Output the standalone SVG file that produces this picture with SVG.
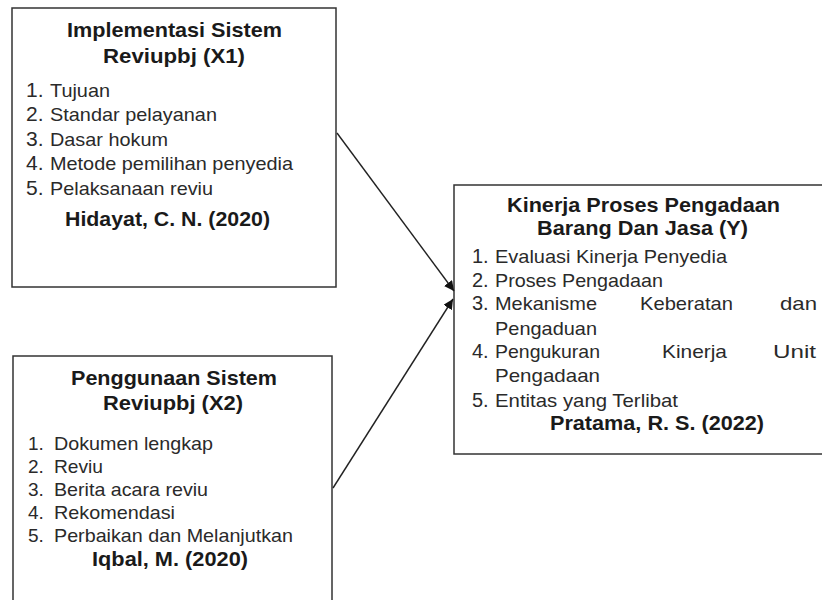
<svg xmlns="http://www.w3.org/2000/svg" width="822" height="600" viewBox="0 0 822 600">
<defs>
<style>
.box{fill:#fff;stroke:#333;stroke-width:1.5}
.t{font-family:"Liberation Sans",Arial,sans-serif;font-weight:bold;font-size:21px;fill:#1a1a1a}
.l{font-family:"Liberation Sans",Arial,sans-serif;font-size:19px;fill:#2a2a2a}
.n{font-family:"Liberation Sans",Arial,sans-serif;font-size:21px;fill:#2a2a2a}
.n3{font-family:"Liberation Sans",Arial,sans-serif;font-size:20px;fill:#2a2a2a}
.n2{font-family:"Liberation Sans",Arial,sans-serif;font-size:19px;fill:#2a2a2a}
.c{fill:none;stroke:#222;stroke-width:1.4}
</style>
<marker id="ah" viewBox="0 0 10 10" refX="10" refY="5" markerWidth="10" markerHeight="10" markerUnits="userSpaceOnUse" orient="auto">
<path d="M0,0 L10,5 L0,10 z" fill="#111"/>
</marker>
</defs>
<rect width="822" height="600" fill="#fff"/>
<g id="x1">
<rect class="box" x="12" y="8" width="324" height="279"/>
<text class="t" x="67" y="37" textLength="215" lengthAdjust="spacingAndGlyphs">Implementasi Sistem</text>
<text class="t" x="103" y="63" textLength="142" lengthAdjust="spacingAndGlyphs">Reviupbj (X1)</text>
<text class="n" x="26" y="97">1.</text><text class="l" x="50" y="97" textLength="60" lengthAdjust="spacingAndGlyphs">Tujuan</text>
<text class="n" x="26" y="121">2.</text><text class="l" x="50" y="121" textLength="167" lengthAdjust="spacingAndGlyphs">Standar pelayanan</text>
<text class="n" x="26" y="146">3.</text><text class="l" x="50" y="146" textLength="118" lengthAdjust="spacingAndGlyphs">Dasar hokum</text>
<text class="n" x="26" y="170">4.</text><text class="l" x="50" y="170" textLength="243" lengthAdjust="spacingAndGlyphs">Metode pemilihan penyedia</text>
<text class="n" x="26" y="195">5.</text><text class="l" x="50" y="195" textLength="163" lengthAdjust="spacingAndGlyphs">Pelaksanaan reviu</text>
<text class="t" x="65" y="226" textLength="205" lengthAdjust="spacingAndGlyphs">Hidayat, C. N. (2020)</text>
</g>
<g id="x2">
<rect class="box" x="13" y="356" width="319" height="260"/>
<text class="t" x="71" y="385" textLength="206" lengthAdjust="spacingAndGlyphs">Penggunaan Sistem</text>
<text class="t" x="103" y="410" textLength="140" lengthAdjust="spacingAndGlyphs">Reviupbj (X2)</text>
<text class="n2" x="28" y="450">1.</text><text class="l" x="54" y="450" textLength="159" lengthAdjust="spacingAndGlyphs">Dokumen lengkap</text>
<text class="n2" x="28" y="473">2.</text><text class="l" x="54" y="473" textLength="49" lengthAdjust="spacingAndGlyphs">Reviu</text>
<text class="n2" x="28" y="496">3.</text><text class="l" x="54" y="496" textLength="154" lengthAdjust="spacingAndGlyphs">Berita acara reviu</text>
<text class="n2" x="28" y="519">4.</text><text class="l" x="54" y="519" textLength="121" lengthAdjust="spacingAndGlyphs">Rekomendasi</text>
<text class="n2" x="28" y="542">5.</text><text class="l" x="54" y="542" textLength="239" lengthAdjust="spacingAndGlyphs">Perbaikan dan Melanjutkan</text>
<text class="t" x="92" y="566" textLength="156" lengthAdjust="spacingAndGlyphs">Iqbal, M. (2020)</text>
</g>
<g id="y">
<rect class="box" x="454" y="185" width="380" height="269"/>
<text class="t" x="507" y="212" textLength="273" lengthAdjust="spacingAndGlyphs">Kinerja Proses Pengadaan</text>
<text class="t" x="537" y="235" textLength="211" lengthAdjust="spacingAndGlyphs">Barang Dan Jasa (Y)</text>
<text class="n3" x="472" y="263">1.</text><text class="l" x="495" y="263" textLength="232" lengthAdjust="spacingAndGlyphs">Evaluasi Kinerja Penyedia</text>
<text class="n3" x="472" y="287">2.</text><text class="l" x="495" y="287" textLength="168" lengthAdjust="spacingAndGlyphs">Proses Pengadaan</text>
<text class="n3" x="472" y="310">3.</text><text class="l" x="495" y="310" textLength="102" lengthAdjust="spacingAndGlyphs">Mekanisme</text>
<text class="l" x="640" y="310" textLength="93" lengthAdjust="spacingAndGlyphs">Keberatan</text>
<text class="l" x="780" y="310" textLength="37" lengthAdjust="spacingAndGlyphs">dan</text>
<text class="l" x="495" y="335" textLength="102" lengthAdjust="spacingAndGlyphs">Pengaduan</text>
<text class="n3" x="472" y="358">4.</text><text class="l" x="495" y="358" textLength="105" lengthAdjust="spacingAndGlyphs">Pengukuran</text>
<text class="l" x="662" y="358" textLength="65" lengthAdjust="spacingAndGlyphs">Kinerja</text>
<text class="l" x="773" y="358" textLength="43" lengthAdjust="spacingAndGlyphs">Unit</text>
<text class="l" x="495" y="382" textLength="105" lengthAdjust="spacingAndGlyphs">Pengadaan</text>
<text class="n3" x="472" y="407">5.</text><text class="l" x="495" y="407" textLength="183" lengthAdjust="spacingAndGlyphs">Entitas yang Terlibat</text>
<text class="t" x="550" y="430" textLength="214" lengthAdjust="spacingAndGlyphs">Pratama, R. S. (2022)</text>
</g>
<g id="connectors">
<line class="c" x1="337" y1="133" x2="454" y2="291" marker-end="url(#ah)"/>
<line class="c" x1="333" y1="488" x2="453" y2="299" marker-end="url(#ah)"/>
</g>
</svg>
